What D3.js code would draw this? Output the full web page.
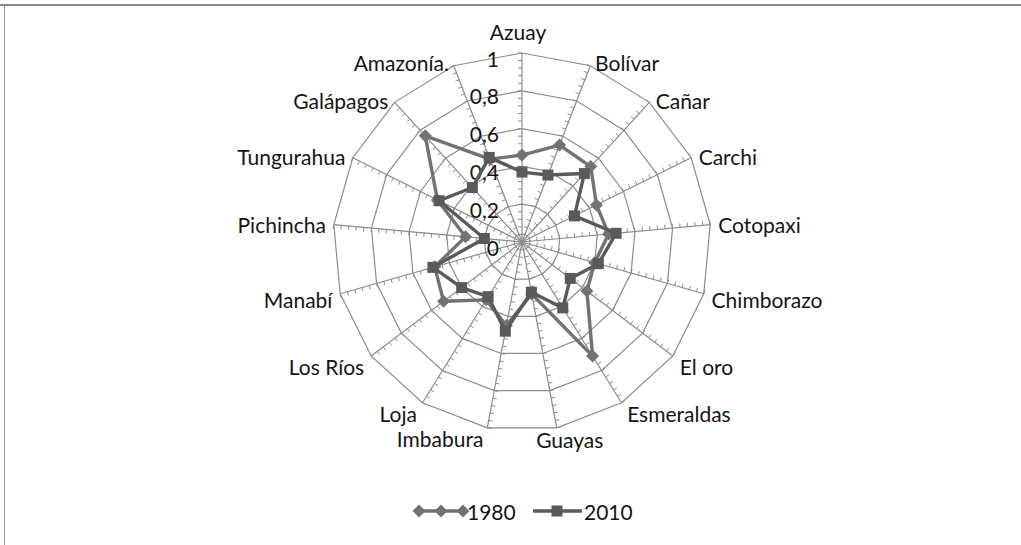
<!DOCTYPE html>
<html lang="es">
<head>
<meta charset="UTF-8">
<title>Radar 1980 / 2010</title>
<script src="https://d3js.org/d3.v7.min.js"></script>
<style>
    html, body { margin: 0; padding: 0; background: #fff; }
    svg { display: block; }
    text { font-family: Lato, "Open Sans", Arial, sans-serif; fill: #151515; }
</style>
</head>
<body>
<div id="chart"></div>
<script>
    // datos
    const provincias = ["Azuay", "Bolívar", "Cañar", "Carchi", "Cotopaxi", "Chimborazo", "El oro",
        "Esmeraldas", "Guayas", "Imbabura", "Loja", "Los Ríos", "Manabí", "Pichincha",
        "Tungurahua", "Galápagos", "Amazonía."];
    const v1980 = [0.46, 0.55, 0.54, 0.44, 0.46, 0.40, 0.43, 0.71, 0.28, 0.45, 0.36, 0.52, 0.48, 0.30, 0.50, 0.76, 0.47];
    const v2010 = [0.37, 0.38, 0.49, 0.31, 0.50, 0.42, 0.32, 0.41, 0.27, 0.48, 0.34, 0.40, 0.49, 0.20, 0.49, 0.39, 0.48];
    const anillos = [0.2, 0.4, 0.6, 0.8, 1];
    const etiquetasEje = ["0", "0,2", "0,4", "0,6", "0,8", "1"];
    const series = [
        { nombre: "1980", valores: v1980, color: "#727272", marca: "diamond" },
        { nombre: "2010", valores: v2010, color: "#5a5a5a", marca: "square" }
    ];

    const width = 1021, height = 545;
    const cx = 522, cy = 242, R = 189;
    const n = provincias.length;
    const fs = 21;

    const svg = d3.select("#chart").append("svg")
        .attr("width", width)
        .attr("height", height);

    // borde del marco
    svg.append("line").attr("x1", 0).attr("x2", width).attr("y1", 5).attr("y2", 5)
        .attr("stroke", "#8a8a8a").attr("stroke-width", 2);
    svg.append("line").attr("x1", 4.5).attr("x2", 4.5).attr("y1", 5).attr("y2", height)
        .attr("stroke", "#9a9a9a").attr("stroke-width", 1);

    const g = svg.append("g").attr("transform", `translate(${cx},${cy})`);

    const r = d3.scaleLinear().domain([0, 1]).range([0, R]);
    const ang = d3.scaleLinear().domain([0, n]).range([0, 2 * Math.PI]);
    const pt = (i, v) => [Math.sin(ang(i)) * r(v), -Math.cos(ang(i)) * r(v)];

    const grid = "#8c8c8c";

    // anillos
    const ring = d3.lineRadial().angle((d, i) => ang(i)).radius(d => r(d)).curve(d3.curveLinearClosed);
    anillos.forEach(a => {
        g.append("path")
            .attr("d", ring(d3.range(n).map(() => a)))
            .attr("fill", "none").attr("stroke", grid).attr("stroke-width", 1.2);
    });

    // radios y marcas
    const ticks = d3.range(1, 26).map(k => k * 0.04);
    provincias.forEach((p, i) => {
        const [x, y] = pt(i, 1);
        g.append("line").attr("x1", 0).attr("y1", 0).attr("x2", x).attr("y2", y)
            .attr("stroke", grid).attr("stroke-width", 1.2);
        const a = ang(i);
        // lado antihorario
        const nx = -Math.cos(a), ny = -Math.sin(a);
        ticks.forEach(t => {
            const [tx, ty] = pt(i, t);
            g.append("line")
                .attr("x1", tx).attr("y1", ty)
                .attr("x2", tx + nx * 4).attr("y2", ty + ny * 4)
                .attr("stroke", grid).attr("stroke-width", 1);
        });
    });

    // etiquetas de categoria
    provincias.forEach((p, i) => {
        const a = ang(i);
        const s = Math.sin(a), c = Math.cos(a);
        const [x, y] = pt(i, 1);
        let anchor, lx, ly;
        if (Math.abs(s) < 0.05) {
            anchor = "middle"; lx = x - 4; ly = y - 22;
        } else if (s > 0 && s < 0.3) {
            anchor = "middle"; lx = x + 13; ly = y + 12;
        } else {
            anchor = s > 0 ? "start" : "end";
            lx = x + (s > 0 ? 1 : -1) * (3 + 5 * Math.abs(s));
            ly = c > 0 ? y - 3 * c : y + Math.min(-c * 20, 11);
        }
        g.append("text")
            .attr("x", lx).attr("y", ly)
            .attr("text-anchor", anchor)
            .attr("dominant-baseline", "central")
            .attr("font-size", fs)
            .text(p);
    });

    // etiquetas del eje de valores
    etiquetasEje.forEach((t, k) => {
        g.append("text")
            .attr("x", -23).attr("y", -r(k * 0.2) + 5)
            .attr("text-anchor", "end")
            .attr("dominant-baseline", "central")
            .attr("font-size", fs)
            .text(t);
    });

    // marcadores
    const diamante = "M0,-6.5L6.5,0L0,6.5L-6.5,0Z";
    const cuadrado = "M-5.5,-5.5H5.5V5.5H-5.5Z";

    const linea = d3.lineRadial().angle((d, i) => ang(i)).radius(d => r(d)).curve(d3.curveLinearClosed);

    series.forEach(sr => {
        g.append("path")
            .attr("d", linea(sr.valores))
            .attr("fill", "none")
            .attr("stroke", sr.color)
            .attr("stroke-width", 3.4)
            .attr("stroke-linejoin", "round");
        g.selectAll(null).data(sr.valores).enter().append("path")
            .attr("transform", (d, i) => `translate(${pt(i, d)[0]},${pt(i, d)[1]})`)
            .attr("d", sr.marca === "diamond" ? diamante : cuadrado)
            .attr("fill", sr.color);
    });

    // leyenda
    const ley = svg.append("g").attr("transform", "translate(0,511)");
    ley.append("line").attr("x1", 418).attr("x2", 464).attr("y1", 0).attr("y2", 0)
        .attr("stroke", series[0].color).attr("stroke-width", 3.4);
    [419, 441, 463].forEach(x => {
        ley.append("path").attr("transform", `translate(${x},0)`).attr("d", diamante).attr("fill", series[0].color);
    });
    ley.append("text").attr("x", 467).attr("y", 0).attr("dominant-baseline", "central")
        .attr("font-size", fs).text(series[0].nombre);
    ley.append("line").attr("x1", 533).attr("x2", 582).attr("y1", 0).attr("y2", 0)
        .attr("stroke", series[1].color).attr("stroke-width", 3.4);
    ley.append("path").attr("transform", "translate(557,0)").attr("d", cuadrado).attr("fill", series[1].color);
    ley.append("text").attr("x", 584).attr("y", 0).attr("dominant-baseline", "central")
        .attr("font-size", fs).text(series[1].nombre);
</script>
</body>
</html>
